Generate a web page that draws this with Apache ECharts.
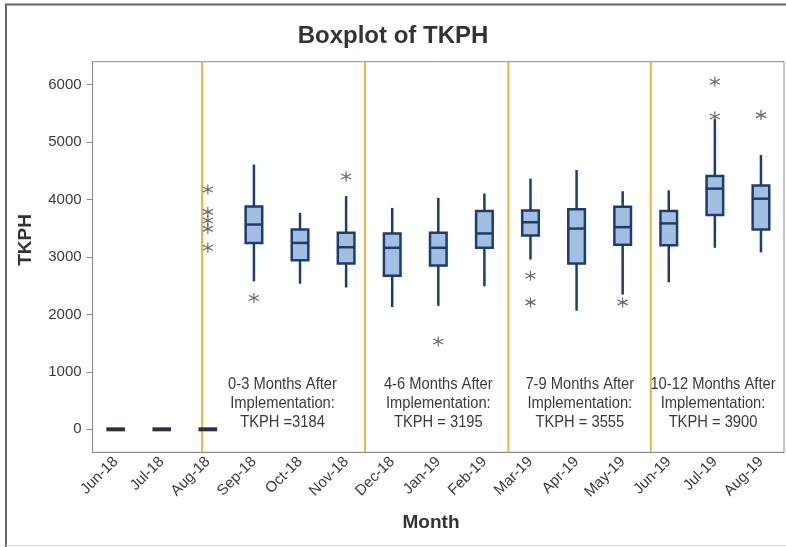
<!DOCTYPE html>
<html>
<head>
<meta charset="utf-8">
<title>Boxplot of TKPH</title>
<script src="https://cdn.jsdelivr.net/npm/echarts@6/dist/echarts.min.js"></script>
<style>
  html, body { margin: 0; padding: 0; background: #fff; }
  #chart { width: 786px; height: 547px; }
</style>
</head>
<body>
<div id="chart"></div>
<script>
const months = ['Jun-18', 'Jul-18', 'Aug-18', 'Sep-18', 'Oct-18', 'Nov-18', 'Dec-18', 'Jan-19',
  'Feb-19', 'Mar-19', 'Apr-19', 'May-19', 'Jun-19', 'Jul-19', 'Aug-19']
const minVals = [0, 0, 0, 2575, 2535, 2470, 2130, 2150, 2490, 2955, 2065, 2345, 2560, 3160, 3080]
const q1Vals = [0, 0, 0, 3245, 2945, 2885, 2675, 2850, 3160, 3375, 2885, 3215, 3205, 3730, 3480]
const medianVals = [0, 0, 0, 3565, 3245, 3170, 3160, 3160, 3410, 3605, 3495, 3520, 3585, 4190, 4015]
const q3Vals = [0, 0, 0, 3880, 3480, 3420, 3410, 3420, 3800, 3810, 3830, 3875, 3800, 4410, 4245]
const maxVals = [0, 0, 0, 4610, 3770, 4060, 3855, 4030, 4105, 4365, 4515, 4145, 4160, 5400, 4775]

const outlierMonths = ['Aug-18', 'Aug-18', 'Aug-18', 'Aug-18', 'Aug-18', 'Sep-18', 'Nov-18', 'Jan-19',
  'Mar-19', 'Mar-19', 'May-19', 'Jul-19', 'Jul-19', 'Aug-19']
const outlierVals = [4175, 3785, 3635, 3490, 3160, 2285, 4400, 1530, 2675, 2210, 2210, 6050, 5445, 5470]

const yTicks = [0, 1000, 2000, 3000, 4000, 5000, 6000]

// phase dividers and notes, in category-index units
const dividerPos = [1.875, 5.41, 8.52, 11.61]
const phaseLabelX = [3.62, 7.0, 10.07, 12.96]
const phaseLabelY = 441
const phaseLabels = [
  '0-3 Months After\nImplementation:\nTKPH =3184',
  '4-6 Months After\nImplementation:\nTKPH = 3195',
  '7-9 Months After\nImplementation:\nTKPH = 3555',
  '10-12 Months After\nImplementation:\nTKPH = 3900'
]

const boxFill = '#a2bfe3'
const boxLine = '#1e3d6b'
const gold = '#e8b54a'
const axisGray = '#8a8a8a'
const textColor = '#3a3a3a'
const font = '"Liberation Sans", Arial, sans-serif'

const asterisk = 'path://M5,0 L5,10 M0.67,2.5 L9.33,7.5 M0.67,7.5 L9.33,2.5'

function renderBox(params, api) {
  const x = api.value(0)
  const pMin = api.coord([x, api.value(1)])
  const pQ1 = api.coord([x, api.value(2)])
  const pMed = api.coord([x, api.value(3)])
  const pQ3 = api.coord([x, api.value(4)])
  const pMax = api.coord([x, api.value(5)])
  const half = api.size([1, 0])[0] * 0.18
  const cx = pMed[0]
  if (pQ1[1] - pQ3[1] < 1) {
    return {
      type: 'line',
      shape: { x1: cx - half - 1, y1: pMed[1], x2: cx + half + 1, y2: pMed[1] },
      style: { stroke: '#2c303c', lineWidth: 4 }
    }
  }
  const line = { stroke: boxLine, lineWidth: 2.5 }
  return {
    type: 'group',
    children: [
      { type: 'line', shape: { x1: cx, y1: pMax[1], x2: cx, y2: pQ3[1] }, style: line },
      { type: 'line', shape: { x1: cx, y1: pQ1[1], x2: cx, y2: pMin[1] }, style: line },
      {
        type: 'rect',
        shape: { x: cx - half, y: pQ3[1], width: half * 2, height: pQ1[1] - pQ3[1] },
        style: { fill: boxFill, stroke: boxLine, lineWidth: 2.5 }
      },
      { type: 'line', shape: { x1: cx - half, y1: pMed[1], x2: cx + half, y2: pMed[1] }, style: line }
    ]
  }
}

// notes are drawn squeezed to mimic the condensed face of the original
function renderNote(params, api) {
  const p = api.coord([api.value(0), api.value(1)])
  return {
    type: 'text',
    x: p[0],
    y: p[1],
    scaleX: 0.92,
    style: {
      text: phaseLabels[params.dataIndex],
      align: 'center',
      verticalAlign: 'middle',
      lineHeight: 19,
      fill: textColor,
      font: '16px ' + font
    }
  }
}

const boxData = months.map((m, i) => [i, minVals[i], q1Vals[i], medianVals[i], q3Vals[i], maxVals[i]])

const dividerSeries = dividerPos.map(x => ({
  type: 'line',
  xAxisIndex: 1,
  data: [[x, -400], [x, 6400]],
  symbol: 'none',
  silent: true,
  z: 1,
  lineStyle: { color: gold, width: 2 }
}))

const chart = echarts.init(document.getElementById('chart'))
chart.setOption({
  animation: false,
  title: {
    text: 'Boxplot of TKPH',
    left: 'center',
    top: 19,
    textStyle: { fontFamily: font, fontSize: 24, fontWeight: 'bold', color: '#333' }
  },
  grid: {
    left: 92.6,
    top: 61.7,
    right: 2,
    bottom: 94.7,
    show: true,
    borderColor: axisGray,
    borderWidth: 1
  },
  graphic: [
    {
      type: 'polyline',
      shape: { points: [[6, 547], [6, 4.5], [786, 4.5]] },
      style: { stroke: '#666', lineWidth: 2, fill: null }
    },
    {
      type: 'line',
      shape: { x1: 6, y1: 545.5, x2: 786, y2: 545.5 },
      style: { stroke: '#d8d8d8', lineWidth: 1 }
    },
    {
      type: 'text',
      x: 26,
      y: 240,
      rotation: Math.PI / 2,
      style: { text: 'TKPH', align: 'center', verticalAlign: 'middle', fill: '#333', font: 'bold 19px ' + font }
    },
    {
      type: 'text',
      x: 431,
      y: 523,
      style: { text: 'Month', align: 'center', verticalAlign: 'middle', fill: '#333', font: 'bold 19px ' + font }
    }
  ],
  xAxis: [{
    type: 'category',
    data: months,
    boundaryGap: true,
    axisLine: { onZero: false, lineStyle: { color: axisGray } },
    axisTick: { alignWithLabel: true, length: 5, lineStyle: { color: axisGray } },
    axisLabel: { rotate: 45, margin: 7, color: textColor, fontSize: 15, fontFamily: font, interval: 0 },
    splitLine: { show: false }
  }, {
    type: 'value',
    min: -0.5,
    max: 14.5,
    show: false
  }],
  yAxis: {
    type: 'value',
    min: -400,
    max: 6400,
    axisLine: { show: true, onZero: false, lineStyle: { color: axisGray } },
    axisTick: { show: true, length: 6, customValues: yTicks, lineStyle: { color: axisGray } },
    axisLabel: {
      customValues: yTicks,
      formatter: v => String(v),
      margin: 11,
      color: textColor,
      fontSize: 15,
      fontFamily: font
    },
    splitLine: { show: false }
  },
  series: [
    ...dividerSeries,
    {
      type: 'custom',
      name: 'TKPH',
      renderItem: renderBox,
      data: boxData,
      encode: { x: 0, y: [1, 2, 3, 4, 5] },
      z: 3
    },
    {
      type: 'scatter',
      name: 'Outliers',
      data: outlierMonths.map((m, i) => [m, outlierVals[i]]),
      symbol: asterisk,
      symbolSize: 10,
      itemStyle: { color: 'rgba(0,0,0,0)', borderColor: '#444', borderWidth: 1.2 },
      z: 4
    },
    {
      type: 'custom',
      name: 'Notes',
      xAxisIndex: 1,
      renderItem: renderNote,
      data: phaseLabelX.map(x => [x, phaseLabelY]),
      silent: true,
      z: 2
    }
  ]
})
</script>
</body>
</html>
